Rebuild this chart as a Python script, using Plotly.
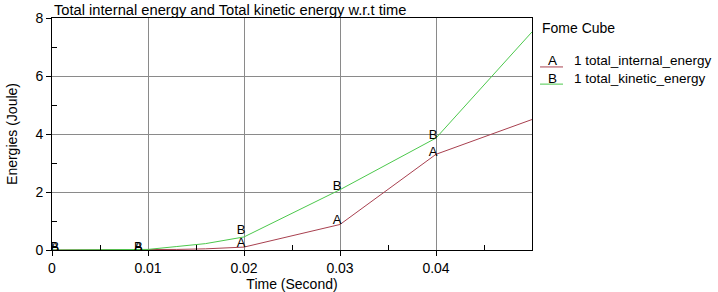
import plotly.graph_objects as go

# Data
time_s = [0, 0.005, 0.01, 0.013, 0.016, 0.02, 0.03, 0.04, 0.05]
internal_energy = [0, 0, 0, 0.02, 0.04, 0.1, 0.88, 3.3, 4.5]
kinetic_energy = [0, 0, 0.02, 0.12, 0.22, 0.45, 2.08, 3.86, 7.52]

marker_time = [0.0003, 0.009, 0.0197, 0.0297, 0.0397]
marker_internal = [0.07, 0.07, 0.2, 1.0, 3.35]
marker_kinetic = [0.07, 0.07, 0.66, 2.18, 3.93]

series_names = ["1 total_internal_energy", "1 total_kinetic_energy"]
series_letters = ["A", "B"]
legend_title = "Fome Cube"
chart_title = "Total internal energy and Total kinetic energy w.r.t time"

RED = "#A8404F"
GREEN = "#4CC84C"
FONT = "Arial, Liberation Sans, sans-serif"

fig = go.Figure()
fig.add_trace(go.Scatter(x=time_s, y=internal_energy, mode="lines",
                         line=dict(color=RED, width=1), showlegend=False, hoverinfo="skip"))
fig.add_trace(go.Scatter(x=time_s, y=kinetic_energy, mode="lines",
                         line=dict(color=GREEN, width=1), showlegend=False, hoverinfo="skip"))
fig.add_trace(go.Scatter(x=marker_time, y=marker_internal, mode="text",
                         text=[series_letters[0]] * len(marker_time),
                         textposition="middle center",
                         textfont=dict(family=FONT, size=13, color="black"),
                         showlegend=False, hoverinfo="skip"))
fig.add_trace(go.Scatter(x=marker_time, y=marker_kinetic, mode="text",
                         text=[series_letters[1]] * len(marker_time),
                         textposition="middle center",
                         textfont=dict(family=FONT, size=13, color="black"),
                         showlegend=False, hoverinfo="skip"))

axis_common = dict(
    showline=True, linecolor="black", linewidth=1, mirror=True,
    showgrid=True, gridcolor="#8a8a8a", gridwidth=1,
    ticks="outside", ticklen=5, tickcolor="black",
    tickfont=dict(family=FONT, size=14, color="black"),
    zeroline=False, automargin=False,
)

fig.update_xaxes(range=[0, 0.05], tickvals=[0, 0.01, 0.02, 0.03, 0.04],
                 ticktext=["0", "0.01", "0.02", "0.03", "0.04"],
                 minor=dict(tickvals=[0.005, 0.015, 0.025, 0.035, 0.045], ticks="inside",
                            ticklen=5, tickcolor="black", showgrid=False),
                 title=dict(text="Time (Second)", font=dict(family=FONT, size=14, color="black"),
                            standoff=4),
                 **axis_common)
fig.update_yaxes(range=[0, 8], tickvals=[0, 2, 4, 6, 8],
                 minor=dict(tickvals=[1, 3, 5, 7], ticks="inside",
                            ticklen=5, tickcolor="black", showgrid=False),
                 title=dict(text="Energies (Joule)", font=dict(family=FONT, size=14, color="black"),
                            standoff=14),
                 **axis_common)

# Title
fig.add_annotation(text=chart_title, xref="paper", yref="paper", x=0, y=1,
                   xanchor="left", yanchor="bottom", showarrow=False, yshift=-2,
                   font=dict(family=FONT, size=14.7, color="black"))
# Custom legend
fig.add_annotation(text=legend_title, xref="paper", yref="paper", x=1.0167, y=0.957,
                   xanchor="left", yanchor="middle", showarrow=False,
                   font=dict(family=FONT, size=14, color="black"))
leg_y = [0.815, 0.741]
leg_colors = [RED, GREEN]
for i in range(2):
    fig.add_annotation(text=series_letters[i], xref="paper", yref="paper", x=1.0417, y=leg_y[i],
                       xanchor="center", yanchor="middle", showarrow=False,
                       font=dict(family=FONT, size=13.5, color="black"))
    fig.add_annotation(text=series_names[i], xref="paper", yref="paper", x=1.0833, y=leg_y[i],
                       xanchor="left", yanchor="middle", showarrow=False,
                       font=dict(family=FONT, size=13.5, color="black"))
    fig.add_shape(type="line", xref="paper", yref="paper", x0=1.0167, x1=1.0646,
                  y0=leg_y[i] - 0.026, y1=leg_y[i] - 0.026,
                  line=dict(color=leg_colors[i], width=1))

fig.update_layout(
    width=718, height=292,
    margin=dict(l=52, r=186, t=18, b=42),
    paper_bgcolor="white", plot_bgcolor="white",
    showlegend=False, hovermode=False,
)

fig.write_html("out.html", config={"displayModeBar": False, "staticPlot": True},
               post_script="document.body.style.margin='0';")
